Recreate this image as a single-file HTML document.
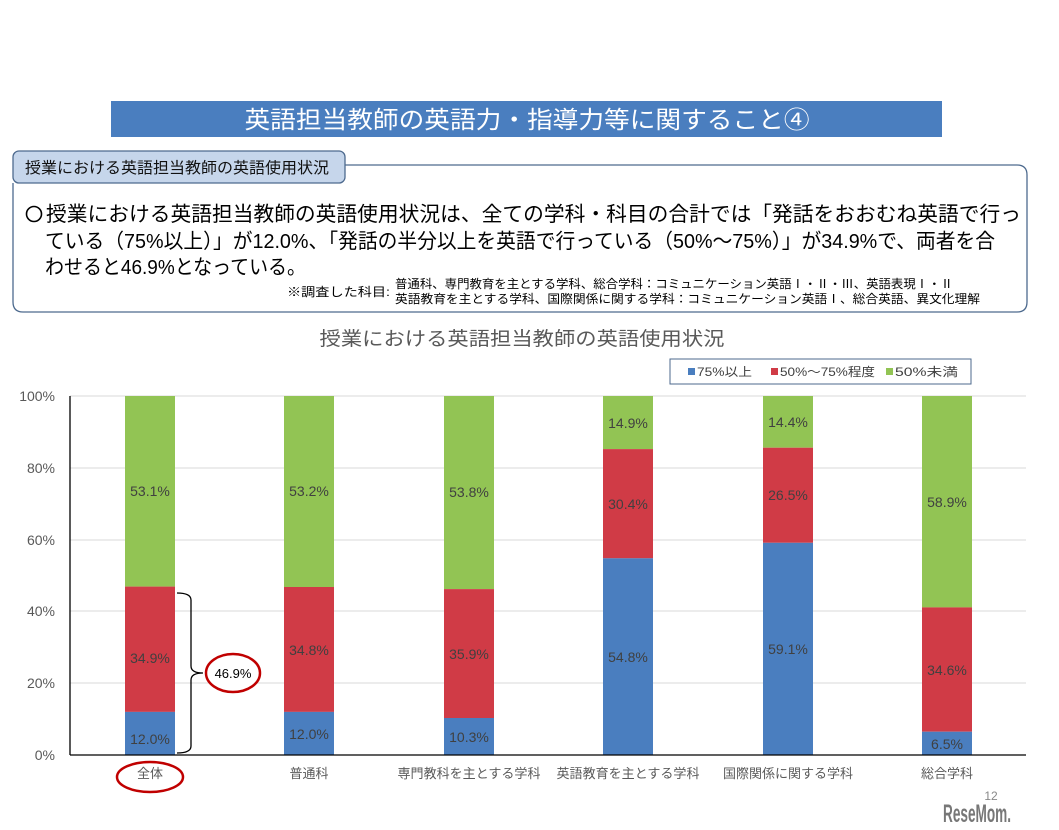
<!DOCTYPE html>
<html><head><meta charset="utf-8">
<style>
html,body{margin:0;padding:0;background:#fff;}
svg{display:block;}
text{font-family:"Liberation Sans","Noto Sans CJK JP",sans-serif;}
</style></head>
<body>
<svg width="1059" height="830" viewBox="0 0 1059 830" xmlns="http://www.w3.org/2000/svg">
<rect x="0" y="0" width="1059" height="830" fill="#fff"/>
<!-- banner -->
<rect x="111" y="101" width="831" height="36" fill="#4a7ebf"/>
<text x="527" y="128" font-size="24" fill="#fff" text-anchor="middle" textLength="565" lengthAdjust="spacingAndGlyphs">英語担当教師の英語力・指導力等に関すること④</text>
<!-- box -->
<path d="M345 165 H1017 Q1027 165 1027 175 V302 Q1027 312 1017 312 H23 Q13 312 13 302 V183" fill="none" stroke="#4d6a8e" stroke-width="1.3"/>
<rect x="13" y="151" width="332" height="32" rx="6" ry="6" fill="#c6d6eb" stroke="#4d6a8e" stroke-width="1.3"/>
<text x="25" y="173" font-size="15.5" fill="#111" textLength="304" lengthAdjust="spacingAndGlyphs">授業における英語担当教師の英語使用状況</text>
<circle cx="34" cy="214" r="7.5" fill="none" stroke="#000" stroke-width="1.6"/>
<text x="46" y="221" font-size="20.5" fill="#000" textLength="975" lengthAdjust="spacingAndGlyphs">授業における英語担当教師の英語使用状況は、全ての学科・科目の合計では「発話をおおむね英語で行っ</text>
<text x="45" y="248" font-size="20.5" fill="#000" textLength="950" lengthAdjust="spacingAndGlyphs">ている（75%以上）」が12.0%、「発話の半分以上を英語で行っている（50%～75%）」が34.9%で、両者を合</text>
<text x="45" y="274" font-size="20.5" fill="#000" textLength="261" lengthAdjust="spacingAndGlyphs">わせると46.9%となっている。</text>
<text x="287" y="296" font-size="12" fill="#000" textLength="103" lengthAdjust="spacingAndGlyphs">※調査した科目:</text>
<text x="395" y="288" font-size="12" fill="#000" textLength="558" lengthAdjust="spacingAndGlyphs">普通科、専門教育を主とする学科、総合学科：コミュニケーション英語Ⅰ・Ⅱ・Ⅲ、英語表現Ⅰ・Ⅱ</text>
<text x="395" y="303" font-size="12" fill="#000" textLength="585" lengthAdjust="spacingAndGlyphs">英語教育を主とする学科、国際関係に関する学科：コミュニケーション英語Ⅰ、総合英語、異文化理解</text>
<!-- chart title -->
<text x="522" y="345" font-size="19" fill="#595959" text-anchor="middle" textLength="405" lengthAdjust="spacingAndGlyphs">授業における英語担当教師の英語使用状況</text>
<!-- legend -->
<rect x="670" y="359" width="301" height="25" fill="#fff" stroke="#4d6a8e" stroke-width="1"/>
<rect x="688" y="368" width="7" height="7" fill="#4a7ebf"/>
<text x="697" y="376" font-size="12" fill="#404040" textLength="55" lengthAdjust="spacingAndGlyphs">75%以上</text>
<rect x="771" y="368" width="7" height="7" fill="#d03b46"/>
<text x="780" y="376" font-size="12" fill="#404040" textLength="95" lengthAdjust="spacingAndGlyphs">50%～75%程度</text>
<rect x="886" y="368" width="7" height="7" fill="#92c454"/>
<text x="895" y="376" font-size="12" fill="#404040" textLength="63" lengthAdjust="spacingAndGlyphs">50%未満</text>
<!-- gridlines -->
<g stroke="#d9d9d9" stroke-width="1">
<line x1="70" y1="396" x2="1026" y2="396"/>
<line x1="70" y1="468" x2="1026" y2="468"/>
<line x1="70" y1="540" x2="1026" y2="540"/>
<line x1="70" y1="611" x2="1026" y2="611"/>
<line x1="70" y1="683" x2="1026" y2="683"/>
</g>
<!-- y labels -->
<g font-size="14" fill="#595959" text-anchor="end">
<text x="55" y="401">100%</text>
<text x="55" y="473">80%</text>
<text x="55" y="545">60%</text>
<text x="55" y="616">40%</text>
<text x="55" y="688">20%</text>
<text x="55" y="760">0%</text>
</g>
<!-- bars -->
<g>
<rect x="125" y="396" width="50" height="190.6" fill="#92c454"/>
<rect x="125" y="586.6" width="50" height="125.3" fill="#d03b46"/>
<rect x="125" y="711.9" width="50" height="43.1" fill="#4a7ebf"/>

<rect x="284" y="396" width="50" height="191" fill="#92c454"/>
<rect x="284" y="587" width="50" height="124.9" fill="#d03b46"/>
<rect x="284" y="711.9" width="50" height="43.1" fill="#4a7ebf"/>

<rect x="444" y="396" width="50" height="193.1" fill="#92c454"/>
<rect x="444" y="589.1" width="50" height="128.9" fill="#d03b46"/>
<rect x="444" y="718" width="50" height="37" fill="#4a7ebf"/>

<rect x="603" y="396" width="50" height="53.1" fill="#92c454"/>
<rect x="603" y="449.1" width="50" height="109.2" fill="#d03b46"/>
<rect x="603" y="558.3" width="50" height="196.7" fill="#4a7ebf"/>

<rect x="763" y="396" width="50" height="51.7" fill="#92c454"/>
<rect x="763" y="447.7" width="50" height="95.1" fill="#d03b46"/>
<rect x="763" y="542.8" width="50" height="212.2" fill="#4a7ebf"/>

<rect x="922" y="396" width="50" height="211.4" fill="#92c454"/>
<rect x="922" y="607.4" width="50" height="124.3" fill="#d03b46"/>
<rect x="922" y="731.7" width="50" height="23.3" fill="#4a7ebf"/>
</g>
<!-- axes -->
<line x1="70" y1="396" x2="70" y2="755" stroke="#000" stroke-width="1.3"/>
<line x1="70" y1="755" x2="1026" y2="755" stroke="#000" stroke-width="1.3"/>
<!-- data labels -->
<g font-size="14" fill="#404040" text-anchor="middle">
<text x="150" y="496">53.1%</text>
<text x="150" y="663">34.9%</text>
<text x="150" y="744">12.0%</text>
<text x="309" y="496">53.2%</text>
<text x="309" y="655">34.8%</text>
<text x="309" y="739">12.0%</text>
<text x="469" y="497">53.8%</text>
<text x="469" y="659">35.9%</text>
<text x="469" y="742">10.3%</text>
<text x="628" y="428">14.9%</text>
<text x="628" y="509">30.4%</text>
<text x="628" y="662">54.8%</text>
<text x="788" y="427">14.4%</text>
<text x="788" y="500">26.5%</text>
<text x="788" y="654">59.1%</text>
<text x="947" y="507">58.9%</text>
<text x="947" y="675">34.6%</text>
<text x="947" y="749">6.5%</text>
</g>
<!-- x labels -->
<g font-size="13" fill="#595959" text-anchor="middle">
<text x="150" y="778">全体</text>
<text x="309" y="778">普通科</text>
<text x="469" y="778" textLength="143" lengthAdjust="spacingAndGlyphs">専門教科を主とする学科</text>
<text x="628" y="778" textLength="143" lengthAdjust="spacingAndGlyphs">英語教育を主とする学科</text>
<text x="788" y="778" textLength="130" lengthAdjust="spacingAndGlyphs">国際関係に関する学科</text>
<text x="947" y="778">総合学科</text>
</g>
<!-- brace -->
<path d="M177 593 Q191 593 191 600 V666 Q191 673 203 673 Q191 673 191 680 V746 Q191 753 177 753" fill="none" stroke="#000" stroke-width="1.3"/>
<ellipse cx="233" cy="673" rx="27" ry="19" fill="#fff" stroke="#c00000" stroke-width="2.5"/>
<text x="233" y="678" font-size="13" fill="#000" text-anchor="middle">46.9%</text>
<ellipse cx="150" cy="777" rx="33" ry="15" fill="none" stroke="#c00000" stroke-width="2.5"/>
<!-- footer -->
<text x="991" y="800" font-size="12" fill="#888" text-anchor="middle">12</text>
<text x="943" y="822" font-size="25" font-weight="bold" fill="#777" textLength="68" lengthAdjust="spacingAndGlyphs">ReseMom.</text>
</svg>
</body></html>
